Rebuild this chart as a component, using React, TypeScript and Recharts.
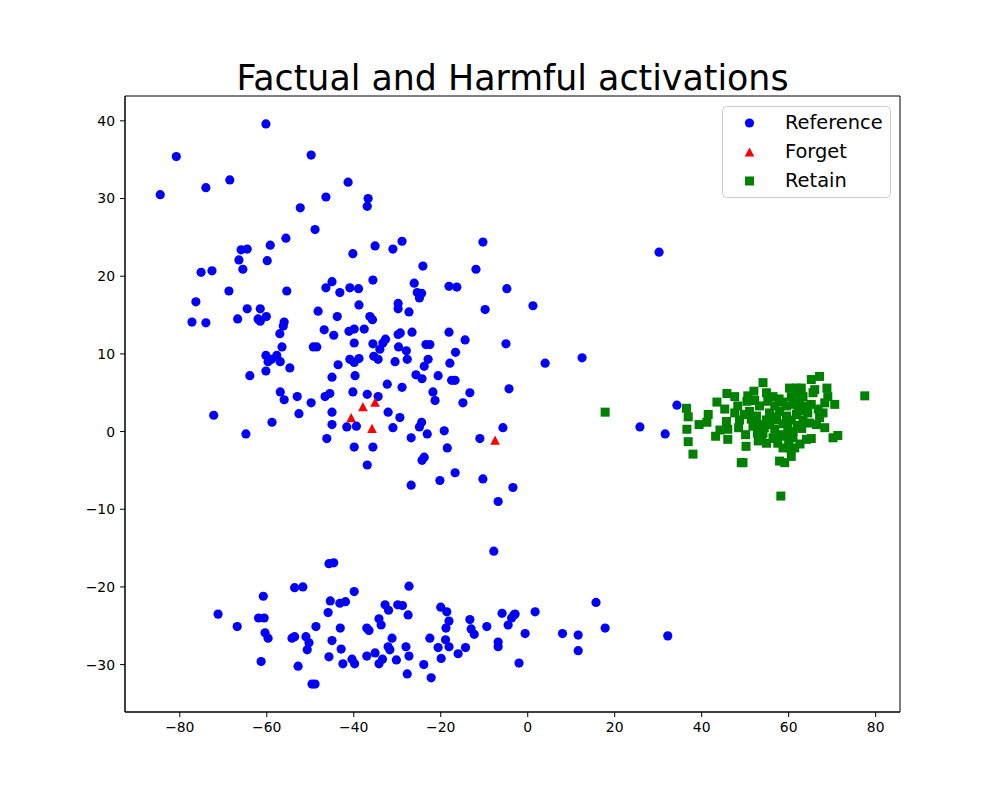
import { ScatterChart, Scatter, XAxis, YAxis, ReferenceArea } from 'recharts'

// values
const referencePoints: [number, number][] = [
  [-60.2, 39.6], [-80.8, 35.4], [-49.8, 35.6], [-68.5, 32.4], [-74.0, 31.4], [-84.5, 30.5],
  [-46.4, 30.2], [-52.3, 28.8], [-48.9, 26.0], [-55.6, 24.9], [-59.2, 24.0], [-65.9, 23.4],
  [-64.5, 23.5], [-66.4, 22.1], [-59.9, 22.0], [-65.5, 20.9], [-75.1, 20.5], [-72.6, 20.7],
  [-68.7, 18.1], [-55.4, 18.1], [-46.4, 18.5], [-41.3, 32.1], [-36.7, 30.0], [-36.9, 29.0],
  [-40.2, 22.9], [-35.1, 23.9], [-31.0, 23.5], [-28.9, 24.5], [-10.3, 24.4], [-24.1, 21.3],
  [-11.9, 20.9], [-45.0, 19.3], [-43.2, 17.9], [-40.9, 18.5], [-38.9, 18.4], [-35.6, 19.5],
  [-26.1, 19.1], [-25.4, 17.9], [-24.4, 17.8], [-24.9, 17.2], [-18.1, 18.7], [-16.3, 18.6],
  [-4.8, 18.4], [-76.3, 16.7], [-64.5, 15.8], [-61.5, 15.8], [-77.2, 14.1], [-74.0, 14.0],
  [-66.7, 14.5], [-62.0, 14.5], [-60.1, 14.8], [-61.5, 14.2], [-48.2, 15.5], [-56.0, 14.1],
  [-56.2, 13.6], [-57.0, 12.6], [-46.8, 13.1], [-56.5, 10.9], [-49.3, 10.9], [-48.5, 10.9],
  [-60.2, 9.8], [-57.7, 9.8], [-59.7, 9.0], [-56.9, 9.0], [-58.9, 9.3], [-54.7, 8.2],
  [-60.2, 7.8], [-63.9, 7.2], [-56.9, 5.1], [-56.0, 4.1], [-53.0, 4.5], [-49.8, 3.7],
  [-46.6, 4.5], [-52.6, 2.3], [-72.2, 2.1], [-58.8, 1.2], [-64.8, -0.3], [-46.2, -0.9],
  [-38.8, 16.3], [-29.8, 16.5], [-29.8, 15.8], [-27.3, 15.4], [-9.8, 15.7], [1.2, 16.2],
  [-43.8, 14.8], [-36.3, 14.8], [-35.7, 14.4], [-44.6, 12.4], [-41.1, 12.9], [-39.9, 13.2],
  [-37.6, 13.2], [-29.8, 12.5], [-29.3, 12.7], [-26.6, 12.8], [-18.1, 12.8], [-14.4, 11.8],
  [-39.9, 11.4], [-35.6, 11.3], [-34.0, 10.6], [-33.3, 11.4], [-32.7, 11.9], [-29.7, 10.9],
  [-27.9, 10.4], [-23.4, 11.2], [-22.5, 11.2], [-16.6, 10.2], [-5.0, 11.3], [4.0, 8.8],
  [-40.9, 9.3], [-39.9, 8.9], [-38.8, 9.4], [-35.4, 9.7], [-34.4, 9.3], [-30.5, 9.0],
  [-27.7, 9.3], [-22.9, 9.3], [-23.8, 8.4], [-17.9, 8.8], [-43.6, 8.6], [-39.7, 7.2],
  [-45.0, 7.0], [-25.7, 7.3], [-24.3, 6.8], [-20.6, 7.2], [-17.5, 6.6], [-16.7, 6.6],
  [-32.3, 6.1], [-28.9, 5.7], [-13.3, 5.0], [-4.3, 5.5], [-40.2, 5.1], [-45.5, 4.9],
  [-36.9, 4.8], [-34.4, 4.5], [-21.8, 5.1], [-21.3, 4.0], [-14.9, 3.7], [-45.0, 2.5],
  [-32.1, 2.5], [-29.4, 1.8], [-45.0, 0.9], [-41.6, 0.6], [-39.4, 0.7], [-31.0, 0.5],
  [-24.4, 1.2], [-24.9, 0.6], [-23.1, -0.3], [-19.2, 0.1], [-5.7, 0.5], [-11.0, -0.9],
  [-26.8, -0.8], [-39.9, -2.0], [-35.6, -2.0], [-18.5, -2.1], [-23.8, -3.3], [-24.3, -3.7],
  [-36.9, -4.3], [-16.7, -5.3], [-20.2, -6.3], [-26.8, -6.9], [-10.3, -6.1], [-3.4, -7.2],
  [-6.8, -9.0], [30.2, 23.1], [12.5, 9.5], [34.3, 3.4], [25.8, 0.6], [31.6, -0.3],
  [-7.8, -15.4], [-45.7, -17.0], [-44.6, -16.9], [-53.6, -20.1], [-51.7, -20.0], [-39.9, -20.6],
  [-60.8, -21.2], [-45.4, -21.8], [-43.2, -22.1], [-41.9, -21.9], [-45.9, -23.3], [-71.2, -23.5],
  [-61.9, -24.0], [-60.6, -24.0], [-32.8, -22.3], [-32.0, -23.0], [-29.9, -22.3], [-34.2, -24.1],
  [-33.7, -24.9], [-66.8, -25.1], [-48.7, -25.1], [-43.1, -25.3], [-37.0, -25.3], [-36.5, -25.6],
  [-60.4, -25.9], [-59.7, -26.6], [-54.2, -26.6], [-53.6, -26.4], [-51.0, -26.4], [-50.3, -27.2],
  [-50.7, -28.1], [-45.0, -26.9], [-31.2, -26.6], [-42.9, -28.0], [-32.1, -27.7], [-31.7, -28.1],
  [-45.7, -29.0], [-37.0, -28.9], [-35.1, -28.5], [-40.4, -29.3], [-39.8, -29.9], [-42.5, -29.9],
  [-34.2, -29.9], [-33.4, -29.3], [-30.2, -29.4], [-61.3, -29.6], [-52.8, -30.2], [-49.6, -32.5],
  [-48.9, -32.5], [-27.3, -19.9], [-28.8, -22.4], [-27.5, -23.6], [-20.0, -22.6], [-18.6, -23.2],
  [-18.1, -24.4], [-18.8, -25.3], [-13.3, -24.2], [-13.0, -25.4], [-12.3, -26.1], [-9.4, -25.1],
  [-5.9, -23.4], [-3.2, -23.6], [-2.9, -23.5], [-3.7, -24.0], [-4.5, -24.9], [1.7, -23.2],
  [-0.6, -26.0], [-28.0, -27.7], [-27.3, -28.9], [-27.7, -31.2], [-22.5, -26.6], [-18.9, -26.8],
  [-20.6, -27.8], [-18.1, -27.7], [-14.3, -27.8], [-16.0, -28.6], [-19.9, -29.2], [-23.9, -30.0],
  [-22.2, -31.7], [-6.8, -27.1], [-6.8, -27.7], [-2.0, -29.8], [8.0, -26.0], [11.6, -26.2],
  [11.6, -28.2], [15.7, -22.0], [17.8, -25.3], [32.2, -26.3],
]

const forgetPoints: [number, number][] = [
  [-40.6, 1.8], [-37.9, 3.2], [-35.1, 3.8], [-35.8, 0.4], [-7.5, -1.1],
]

const retainPoints: [number, number][] = [
  [17.8, 2.5], [36.5, 3.0], [36.9, 1.9], [36.6, 0.3], [36.9, -1.3], [38.0, -2.9],
  [39.4, 0.9], [41.5, 2.2], [41.2, 1.2], [43.5, 3.8], [45.8, 4.9], [45.3, 2.9],
  [43.2, -0.6], [46.0, -1.0], [45.7, 1.3], [46.0, 0.3], [48.3, 3.3], [48.7, 1.5],
  [48.5, 0.5], [49.5, -4.0], [49.1, -4.0], [50.1, -0.4], [50.4, 3.9], [52.0, 5.2],
  [54.1, 6.3], [51.0, 2.6], [52.6, 2.0], [53.3, 3.3], [51.8, 0.7], [53.3, 0.9],
  [54.9, 1.5], [53.0, -1.2], [54.9, -1.5], [54.9, 5.0], [56.4, 4.5], [56.8, 3.3],
  [55.6, 2.4], [57.2, 1.5], [56.8, 0.3], [58.3, -0.4], [57.5, -1.5], [58.7, -2.1],
  [60.2, -2.1], [57.9, -3.8], [59.1, -4.0], [60.6, -3.2], [61.4, -2.1], [58.2, -8.3],
  [60.2, 5.6], [61.8, 5.6], [62.9, 5.6], [60.6, 4.5], [62.5, 4.8], [63.3, 4.5],
  [59.5, 3.3], [61.0, 3.5], [62.1, 2.8], [59.5, 2.0], [60.6, 1.5], [61.8, 2.2],
  [59.8, 0.5], [61.0, 0.0], [59.5, -0.6], [61.0, -0.8], [64.1, 3.3], [65.2, 3.5],
  [64.4, 2.4], [63.3, 1.5], [64.8, 1.1], [64.1, -1.0], [65.2, -0.9], [65.2, 6.7],
  [66.0, 5.4], [65.6, 5.0], [67.1, 7.1], [68.8, 5.6], [69.0, 4.5], [68.3, 3.7],
  [70.6, 3.5], [67.9, 2.4], [67.1, 1.8], [66.4, 0.9], [68.3, 0.5], [70.2, -0.8],
  [71.3, -0.5], [77.5, 4.6], [47.6, 4.5], [47.6, 2.4], [50.2, -1.9], [54.1, -0.2],
  [55.6, 0.9], [56.4, -0.8], [52.2, 4.0], [57.8, 4.2], [58.8, 1.0], [62.6, -1.6],
  [44.2, 0.2], [53.8, -0.6], [63.0, 0.4], [66.8, 2.9], [51.4, 1.6], [52.8, -0.2],
  [55.2, 3.9], [56.0, 1.9], [57.9, 2.6], [58.6, 3.8], [60.0, -1.2], [62.0, 0.8],
  [63.6, 2.7], [50.6, 4.6], [54.4, 0.5], [57.0, -0.9], [62.4, 3.7], [49.8, 2.2],
]

const xTicks = [-80, -60, -40, -20, 0, 20, 40, 60, 80]
const yTicks = [-30, -20, -10, 0, 10, 20, 30, 40]

const X_DOMAIN: [number, number] = [-92.6, 85.6]
const Y_DOMAIN: [number, number] = [-36.1, 43.2]

const toRows = (pts: [number, number][]) => pts.map(([x, y]) => ({ x, y }))

const FONT = '"DejaVu Sans", sans-serif'
const tickStyle = { fill: '#000', fontSize: 13.9, fontFamily: FONT }
const fmt = (v: number) => String(v).replace('-', '\u2212')

function Dot({ cx, cy, fill }: { cx?: number; cy?: number; fill: string }) {
  if (cx == null || cy == null) return null
  return <circle cx={cx} cy={cy} r={4.6} fill={fill} />
}

function Tri({ cx, cy, fill }: { cx?: number; cy?: number; fill: string }) {
  if (cx == null || cy == null) return null
  const w = 4.8
  const h = 4.6
  return <polygon points={`${cx},${cy - h} ${cx - w},${cy + h} ${cx + w},${cy + h}`} fill={fill} />
}

function Sq({ cx, cy, fill }: { cx?: number; cy?: number; fill: string }) {
  if (cx == null || cy == null) return null
  return <rect x={cx - 4.5} y={cy - 4.5} width={9} height={9} fill={fill} />
}

const legendItems = [
  { label: 'Reference', color: '#0000ff', kind: 'circle' },
  { label: 'Forget', color: '#ff0000', kind: 'triangle' },
  { label: 'Retain', color: '#008000', kind: 'square' },
]

function Overlay() {
  return (
    <svg
      width={1000}
      height={800}
      style={{ position: 'absolute', left: 0, top: 0, pointerEvents: 'none' }}
    >
      <text x={512.5} y={89.5} textAnchor="middle" fontFamily={FONT} fontSize={34.8} fill="#000">
        Factual and Harmful activations
      </text>
      <rect x={722.5} y={106.5} width={168} height={91} rx={4} fill="rgba(255,255,255,0.8)" stroke="#cccccc" />
      {legendItems.map((it, i) => {
        const cy = 123 + i * 29
        return (
          <g key={it.label}>
            {it.kind === 'circle' && <Dot cx={749.5} cy={cy} fill={it.color} />}
            {it.kind === 'triangle' && <Tri cx={749.5} cy={cy} fill={it.color} />}
            {it.kind === 'square' && <Sq cx={749.5} cy={cy} fill={it.color} />}
            <text x={785} y={cy + 5.5} fontFamily={FONT} fontSize={19.4} fill="#000">
              {it.label}
            </text>
          </g>
        )
      })}
    </svg>
  )
}

export default function App() {
  return (
    <div style={{ position: 'absolute', left: 0, top: 0, width: 1000, height: 800, background: '#fff' }}>
      <ScatterChart width={1000} height={800} margin={{ top: 96, right: 100, bottom: 48, left: 65 }}>
        <XAxis
          type="number"
          dataKey="x"
          domain={X_DOMAIN}
          ticks={xTicks}
          allowDataOverflow
          height={40}
          tickSize={5}
          tickMargin={5}
          tick={tickStyle}
          tickFormatter={fmt}
          stroke="#000"
          axisLine={{ stroke: '#000' }}
          tickLine={{ stroke: '#000' }}
        />
        <YAxis
          type="number"
          dataKey="y"
          domain={Y_DOMAIN}
          ticks={yTicks}
          allowDataOverflow
          width={60}
          tickSize={5}
          tickMargin={5}
          tick={tickStyle}
          tickFormatter={fmt}
          stroke="#000"
          axisLine={{ stroke: '#000' }}
          tickLine={{ stroke: '#000' }}
        />
        <ReferenceArea
          x1={X_DOMAIN[0]}
          x2={X_DOMAIN[1]}
          y1={Y_DOMAIN[0]}
          y2={Y_DOMAIN[1]}
          fill="none"
          fillOpacity={0}
          stroke="#000"
          strokeWidth={1}
        />
        <Scatter
          name="Reference"
          data={toRows(referencePoints)}
          isAnimationActive={false}
          shape={(p: any) => <Dot cx={p.cx} cy={p.cy} fill="#0000ff" />}
        />
        <Scatter
          name="Forget"
          data={toRows(forgetPoints)}
          isAnimationActive={false}
          shape={(p: any) => <Tri cx={p.cx} cy={p.cy} fill="#ff0000" />}
        />
        <Scatter
          name="Retain"
          data={toRows(retainPoints)}
          isAnimationActive={false}
          shape={(p: any) => <Sq cx={p.cx} cy={p.cy} fill="#008000" />}
        />
      </ScatterChart>
      <Overlay />
    </div>
  )
}
